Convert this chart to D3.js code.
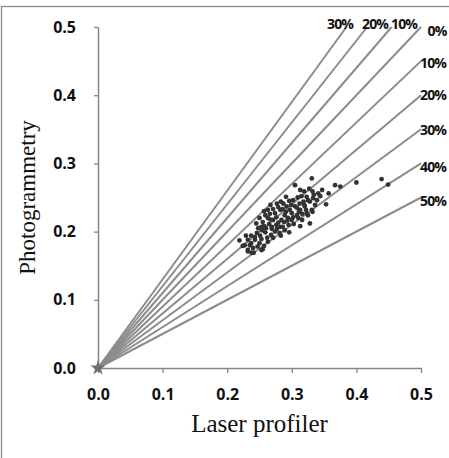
<!DOCTYPE html>
<html>
<head>
<meta charset="utf-8">
<script src="https://cdn.jsdelivr.net/npm/d3@7"></script>
<style>
  body { margin: 0; background: #fff; }
  svg { display: block; }
</style>
</head>
<body>
<svg id="chart"></svg>
<script>
// scatter points (laser, photo)
var laserX = [0.331,0.367,0.375,0.400,0.439,0.449,0.357,0.341,0.353,0.328,0.332,0.305,0.327,0.332,0.319,0.315,0.323,0.309,0.302,0.296,
  0.328,0.318,0.312,0.287,0.277,0.292,0.305,0.320,0.282,0.297,0.313,0.331,0.274,0.289,0.308,0.323,0.271,0.284,0.300,0.316,
  0.269,0.282,0.295,0.267,0.283,0.250,0.253,0.245,0.219,0.227,0.232,0.237,0.240,0.243,0.250,0.253,0.232,0.238,0.253,0.257,
  0.247,0.235,0.224,0.232,0.255,0.241,0.274,0.268,0.281,0.286,0.259,0.263,0.255,0.260,0.263,0.266,0.276,0.279,0.288,0.291,
  0.294,0.300,0.303,0.308,0.310,0.316,0.319,0.322,0.325,0.333,0.336,0.339,0.344,0.347,0.299,0.286,0.279,0.271,0.265,0.259,
  0.251,0.254,0.246,0.262,0.269,0.276,0.289,0.296,0.283,0.277,0.293,0.302,0.311,0.334,0.325,0.313,0.266,0.257,0.248,0.243,
  0.229,0.237,0.263,0.271,0.313,0.291,0.257];
var photoY = [0.278,0.268,0.266,0.272,0.277,0.269,0.256,0.256,0.240,0.212,0.229,0.268,0.263,0.259,0.259,0.252,0.251,0.250,0.246,0.245,
  0.244,0.244,0.241,0.241,0.241,0.237,0.237,0.237,0.232,0.232,0.232,0.232,0.227,0.224,0.224,0.227,0.217,0.217,0.217,0.217,
  0.207,0.207,0.210,0.239,0.244,0.220,0.207,0.212,0.187,0.180,0.188,0.183,0.176,0.188,0.183,0.189,0.173,0.169,0.173,0.179,
  0.178,0.180,0.179,0.171,0.174,0.169,0.200,0.195,0.198,0.207,0.224,0.232,0.214,0.205,0.220,0.226,0.221,0.213,0.214,0.229,
  0.220,0.227,0.211,0.235,0.220,0.226,0.240,0.232,0.246,0.249,0.239,0.246,0.252,0.261,0.239,0.233,0.236,0.233,0.211,0.199,
  0.194,0.202,0.198,0.191,0.204,0.210,0.202,0.199,0.194,0.204,0.216,0.221,0.229,0.254,0.224,0.208,0.218,0.208,0.205,0.192,
  0.194,0.194,0.185,0.191,0.261,0.251,0.230];

// reference lines: photo = slope * laser
var slopes = [1.3, 1.2, 1.1, 1.0, 0.9, 0.8, 0.7, 0.6, 0.5];
var lineLabels = ["30%", "20%", "10%", "0%", "10%", "20%", "30%", "40%", "50%"];
var tickValues = [0, 0.1, 0.2, 0.3, 0.4, 0.5];

// where each label sits (pixels), layout only
var labelPos = [[340, 29], [375, 29], [404, 29], [437, 36], [433, 68], [433, 100], [433, 135], [433, 172], [433, 206]];

var W = 449, H = 458;
var svg = d3.select("#chart").attr("width", W).attr("height", H);

var x = d3.scaleLinear().domain([0, 0.5]).range([98, 421]);
var y = d3.scaleLinear().domain([0, 0.5]).range([368, 27]);

// frame
svg.append("rect")
  .attr("x", 1.5).attr("y", 6.5)
  .attr("width", 470).attr("height", 470)
  .attr("fill", "none")
  .attr("stroke", "#8a8a8a")
  .attr("stroke-width", 1.3);

var fmt = d3.format(".1f");

var yAxis = svg.append("g")
  .attr("transform", "translate(" + x(0) + ",0)")
  .call(d3.axisLeft(y).tickValues(tickValues).tickFormat(fmt).tickSize(4).tickSizeOuter(0).tickPadding(18));

var xAxis = svg.append("g")
  .attr("transform", "translate(0," + y(0) + ")")
  .call(d3.axisBottom(x).tickValues(tickValues).tickFormat(fmt).tickSize(5).tickSizeOuter(0).tickPadding(16));

[xAxis, yAxis].forEach(function(a) {
  a.select(".domain").attr("stroke", "#868686").attr("stroke-width", 1.5);
  a.selectAll(".tick line").attr("stroke", "#868686").attr("stroke-width", 1.3);
  a.selectAll(".tick text")
    .attr("fill", "#111")
    .style("font-family", "'Open Sans', sans-serif")
    .style("font-weight", "bold")
    .style("font-size", "16px");
});

// ratio lines through the origin
svg.selectAll(".ratio")
  .data(slopes)
  .enter().append("line")
  .attr("class", "ratio")
  .attr("x1", x(0))
  .attr("y1", y(0))
  .attr("x2", function(s) { return s > 1 ? x(0.5 / s) : x(0.5); })
  .attr("y2", function(s) { return s > 1 ? y(0.5) : y(0.5 * s); })
  .attr("stroke", "#8c8c8c")
  .attr("stroke-width", 2);

svg.append("path")
  .attr("transform", "translate(" + x(0) + "," + y(0) + ")")
  .attr("d", d3.symbol().type(d3.symbolStar).size(70)())
  .attr("fill", "#6e6e6e");

svg.selectAll(".lbl")
  .data(lineLabels)
  .enter().append("text")
  .attr("class", "lbl")
  .attr("x", function(d, i) { return labelPos[i][0]; })
  .attr("y", function(d, i) { return labelPos[i][1]; })
  .attr("text-anchor", "middle")
  .style("font-family", "'Open Sans', sans-serif")
  .style("font-weight", "bold")
  .style("font-size", "14px")
  .style("letter-spacing", "-0.9px")
  .attr("fill", "#111")
  .text(function(d) { return d; });

// points
svg.selectAll(".dot")
  .data(laserX)
  .enter().append("circle")
  .attr("class", "dot")
  .attr("cx", function(d) { return x(d); })
  .attr("cy", function(d, i) { return y(photoY[i]); })
  .attr("r", 2.4)
  .attr("fill", "#333");

// axis titles
svg.append("text")
  .attr("x", (x(0) + x(0.5)) / 2)
  .attr("y", 432)
  .attr("text-anchor", "middle")
  .style("font-family", "'Liberation Serif', 'Times New Roman', serif")
  .style("font-size", "25px")
  .attr("fill", "#111")
  .text("Laser profiler");

svg.append("text")
  .attr("transform", "translate(35," + (y(0) + y(0.5)) / 2 + ") rotate(-90)")
  .attr("text-anchor", "middle")
  .style("font-family", "'Liberation Serif', 'Times New Roman', serif")
  .style("font-size", "23px")
  .attr("fill", "#111")
  .text("Photogrammetry");
</script>
</body>
</html>
